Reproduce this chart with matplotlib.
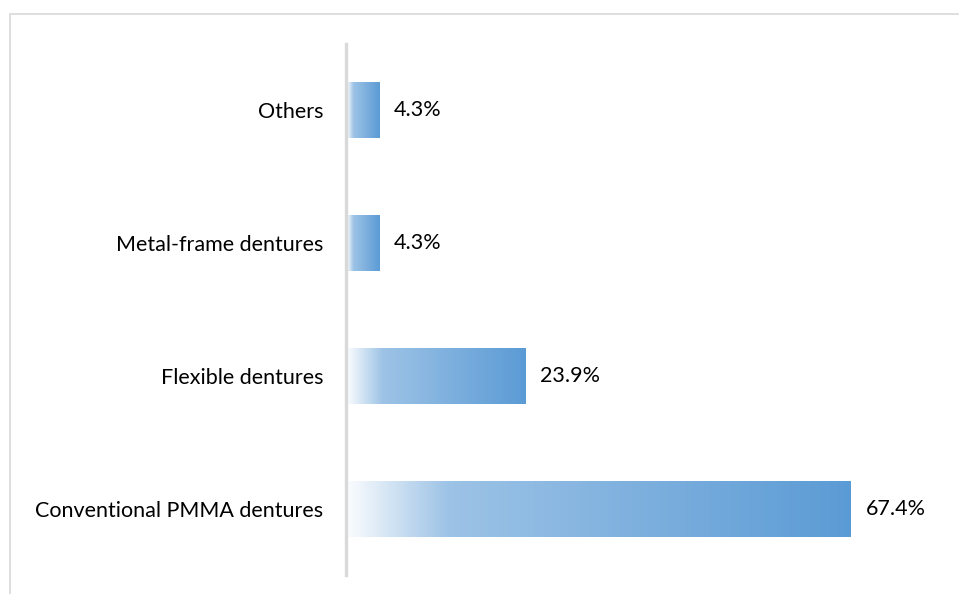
import matplotlib.pyplot as plt
import numpy as np
from matplotlib.colors import LinearSegmentedColormap
from matplotlib.patches import Rectangle

plt.rcParams['font.family'] = ['Lato', 'DejaVu Sans']

categories = ['Conventional PMMA dentures', 'Flexible dentures',
              'Metal-frame dentures', 'Others']
values = [67.4, 23.9, 4.3, 4.3]
labels = ['67.4%', '23.9%', '4.3%', '4.3%']

# white -> light blue -> blue fill along each bar
fade = LinearSegmentedColormap.from_list(
    'fade', [(0.0, '#FAFCFE'), (0.2, '#9DC3E6'), (1.0, '#5B9BD5')])

fig = plt.figure(figsize=(9.59, 5.94), dpi=100)
ax = fig.add_axes([347 / 959, 1 - 575 / 594, 600 / 959, 531 / 594])

# light frame round the chart area
fig.patches.append(Rectangle((10 / 959, -0.1), 1.0, 1 - 14 / 594 + 0.1,
                             transform=fig.transFigure, fill=False,
                             edgecolor='#D9D9D9', linewidth=1.2))

y = np.arange(len(categories))
bars = ax.barh(y, values, height=0.42, color='none', edgecolor='none')

grad = np.linspace(0, 1, 256).reshape(1, -1)
for bar, lab in zip(bars, labels):
    x0, y0 = bar.get_x(), bar.get_y()
    w, h = bar.get_width(), bar.get_height()
    im = ax.imshow(grad, cmap=fade, aspect='auto',
                   extent=(x0, x0 + w, y0, y0 + h), interpolation='bilinear')
    im.set_clip_path(bar)
    ax.text(x0 + w + 2.0, y0 + h / 2, lab, va='center', ha='left',
            fontsize=15.5, color='#000000')

ax.set_xlim(0, 600 / 7.47)
ax.set_ylim(-0.5, len(categories) - 0.5)
ax.set_yticks(y)
ax.set_yticklabels(categories)
ax.tick_params(axis='y', length=0, pad=16, labelsize=15.5, labelcolor='#000000')
ax.set_xticks([])

for s in ['top', 'right', 'bottom']:
    ax.spines[s].set_visible(False)
ax.spines['left'].set_color('#D9D9D9')
ax.spines['left'].set_linewidth(2.4)
ax.spines['left'].set_position(('outward', 1))

fig.savefig('out.png', dpi=100)
